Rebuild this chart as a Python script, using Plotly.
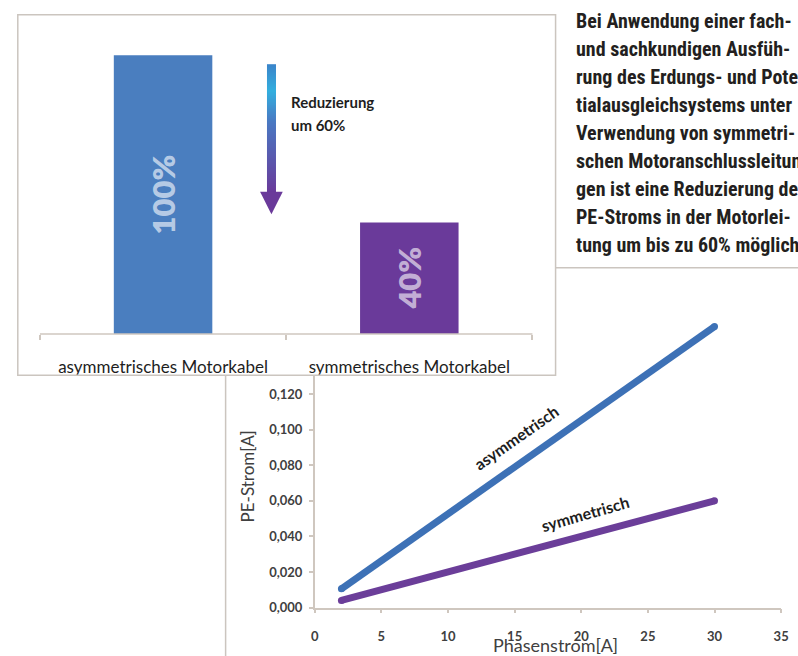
import plotly.graph_objects as go

W, H = 798, 656


def fx(px):
    return px / W


def fy(py):
    return 1 - py / H


# ---------------- data ----------------
CATEGORIES = ["asymmetrisches Motorkabel", "symmetrisches Motorkabel"]
SHARE = [100, 40]
SHARE_LABELS = ["100%", "40%"]

PHASE_CURRENT = [2, 30]
PE_ASYM = [0.0105, 0.158]
PE_SYM = [0.004, 0.060]

X_TICKS = [0, 5, 10, 15, 20, 25, 30, 35]
Y_TICKS = [0.0, 0.02, 0.04, 0.06, 0.08, 0.10, 0.12]
Y_TICK_LABELS = ["0,000", "0,020", "0,040", "0,060", "0,080", "0,100", "0,120"]

TEXT_LINES = [
    "Bei Anwendung einer fach-",
    "und sachkundigen Ausfüh-",
    "rung des Erdungs- und Poten-",
    "tialausgleichsystems unter",
    "Verwendung von symmetri-",
    "schen Motoranschlussleitun-",
    "gen ist eine Reduzierung des",
    "PE-Stroms in der Motorlei-",
    "tung um bis zu 60% möglich.",
]

# ---------------- styles ----------------
BLUE = "#4a7ebf"
PURPLE = "#6a3a9a"
LINE_BLUE = "#3d71b6"
LINE_PURPLE = "#6b3e99"
FRAME = "#cbc5bf"
AXIS = "#cfc7bf"
DARK = "#1e1e1e"
GREY_TXT = "#404040"
CAL = "Lato, Carlito, Calibri, sans-serif"
NARROW = "Noto Sans Condensed, Noto Sans ExtraCondensed, Roboto Condensed, Liberation Sans Narrow, sans-serif"

fig = go.Figure()

# line chart (xy)
fig.add_trace(go.Scatter(
    x=PHASE_CURRENT, y=PE_ASYM, mode="lines+markers",
    line=dict(color=LINE_BLUE, width=7), marker=dict(color=LINE_BLUE, size=7),
    hoverinfo="skip", showlegend=False, xaxis="x", yaxis="y"))
fig.add_trace(go.Scatter(
    x=PHASE_CURRENT, y=PE_SYM, mode="lines+markers",
    line=dict(color=LINE_PURPLE, width=7), marker=dict(color=LINE_PURPLE, size=7),
    hoverinfo="skip", showlegend=False, xaxis="x", yaxis="y"))

# bar chart (x2y2)
fig.add_trace(go.Bar(
    x=CATEGORIES, y=SHARE, text=SHARE_LABELS, texttemplate="%{text}",
    textposition="inside", textangle=-90, insidetextanchor="middle",
    textfont=dict(family=CAL, size=31, color="rgba(255,255,255,0.62)", weight=800),
    marker=dict(color=[BLUE, PURPLE], line=dict(width=0)), width=0.4,
    hoverinfo="skip", showlegend=False, xaxis="x2", yaxis="y2"))

# gradient arrow shaft (x3y3 overlay, pixel-like coordinates)
N_GRAD = 130
fig.add_trace(go.Heatmap(
    z=[[i] for i in range(N_GRAD)], x0=271.5, dx=9, y0=65.5, dy=1,
    colorscale=[[0, "#3a86cb"], [0.2, "#33afdf"], [0.45, "#4a78c2"], [1, "#6a3a9a"]],
    showscale=False, zsmooth="best", hoverinfo="skip", xaxis="x3", yaxis="y3"))
fig.add_trace(go.Scatter(
    x=[260, 283, 271.5, 260], y=[194, 194, 217, 194], mode="lines", fill="toself",
    fillcolor="#6a3a9a", line=dict(width=0, color="#6a3a9a"),
    hoverinfo="skip", showlegend=False, xaxis="x3", yaxis="y3"))

annotations = [
    dict(xref="x3", yref="y3", x=289, y=103, text="<b>Reduzierung</b>", showarrow=False,
         xanchor="left", yanchor="middle", font=dict(family=CAL, size=15, color=DARK)),
    dict(xref="x3", yref="y3", x=289, y=127, text="<b>um 60%</b>", showarrow=False,
         xanchor="left", yanchor="middle", font=dict(family=CAL, size=15, color=DARK)),
    dict(xref="x", yref="y", x=15.1, y=0.0956, text="<b>asymmetrisch</b>", showarrow=False,
         textangle=-35, xanchor="center", yanchor="middle",
         font=dict(family=CAL, size=16, color=DARK)),
    dict(xref="x", yref="y", x=20.3, y=0.0528, text="<b>symmetrisch</b>", showarrow=False,
         textangle=-16, xanchor="center", yanchor="middle",
         font=dict(family=CAL, size=16, color=DARK)),
    dict(xref="paper", yref="paper", x=fx(247), y=fy(482), text="PE-Strom[A]", showarrow=False,
         textangle=-90, xanchor="center", yanchor="middle",
         font=dict(family=CAL, size=17, color=GREY_TXT)),
    dict(xref="paper", yref="paper", x=fx(560), y=fy(653), text="Phasenstrom[A]", showarrow=False,
         xanchor="center", yanchor="middle",
         font=dict(family=CAL, size=18, color=GREY_TXT)),
]
y0_text, dy_text = 21, 28.4
for i, line in enumerate(TEXT_LINES):
    annotations.append(dict(
        xref="paper", yref="paper", x=fx(579), y=fy(y0_text + i * dy_text),
        text="<b>" + line + "</b>", showarrow=False, xanchor="left", yanchor="middle",
        font=dict(family=NARROW, size=20, color="#231f20")))

shapes = [
    # frame of the line chart (behind the bar chart panel)
    dict(type="rect", xref="paper", yref="paper", x0=fx(225), x1=1.02, y0=-0.02, y1=fy(271),
         line=dict(color=FRAME, width=1.5), fillcolor="rgba(0,0,0,0)", layer="below"),
    # frame of the bar chart panel
    dict(type="rect", xref="paper", yref="paper", x0=fx(14), x1=fx(560), y0=fy(380), y1=fy(15),
         line=dict(color=FRAME, width=1.5), fillcolor="rgba(0,0,0,0)", layer="above"),
    # category axis line of the bar chart
    dict(type="line", xref="x2", yref="y2", x0=-0.5, x1=1.5, y0=0, y1=0,
         line=dict(color=AXIS, width=1.5), layer="above"),
]

fig.update_layout(
    width=W, height=H, autosize=False,
    margin=dict(l=0, r=0, t=0, b=0, pad=0),
    paper_bgcolor="white", plot_bgcolor="white",
    showlegend=False,
    annotations=annotations, shapes=shapes,
    xaxis=dict(domain=[fx(315.5), fx(789)], range=[0, 35], tickvals=X_TICKS,
               showline=True, linecolor=AXIS, linewidth=1.5, ticks="outside", ticklen=4,
               tickcolor=AXIS, tickwidth=1.5, showgrid=False, zeroline=False,
               ticklabelstandoff=12,
               tickfont=dict(family=CAL, size=13, color=GREY_TXT, weight="bold"),
               anchor="y", fixedrange=True),
    yaxis=dict(domain=[fy(615), fy(291)], range=[0, 0.18], tickvals=Y_TICKS,
               ticktext=Y_TICK_LABELS,
               showline=True, linecolor=AXIS, linewidth=1.5, ticks="outside", ticklen=4,
               tickcolor=AXIS, tickwidth=1.5, showgrid=False, zeroline=False,
               ticklabelstandoff=4,
               tickfont=dict(family=CAL, size=13, color=GREY_TXT, weight="bold"),
               anchor="x", fixedrange=True),
    xaxis2=dict(domain=[fx(14), fx(560)], type="category", range=[-0.59, 1.594],
                anchor="free", position=fy(338), showline=False, showgrid=False,
                zeroline=False, ticks="outside", tickson="boundaries", ticklen=5,
                tickcolor=AXIS, tickwidth=1.5, ticklabelstandoff=21,
                tickfont=dict(family=CAL, size=17, color=DARK), fixedrange=True),
    yaxis2=dict(domain=[fy(380), fy(15)], range=[-14.89, 114.54], visible=False,
                anchor="x2", fixedrange=True),
    xaxis3=dict(overlaying="x2", range=[14, 560], visible=False, anchor="y3", fixedrange=True),
    yaxis3=dict(overlaying="y2", range=[380, 15], visible=False, anchor="x3", fixedrange=True),
)

fig.write_html("out.html", config={"displayModeBar": False})
